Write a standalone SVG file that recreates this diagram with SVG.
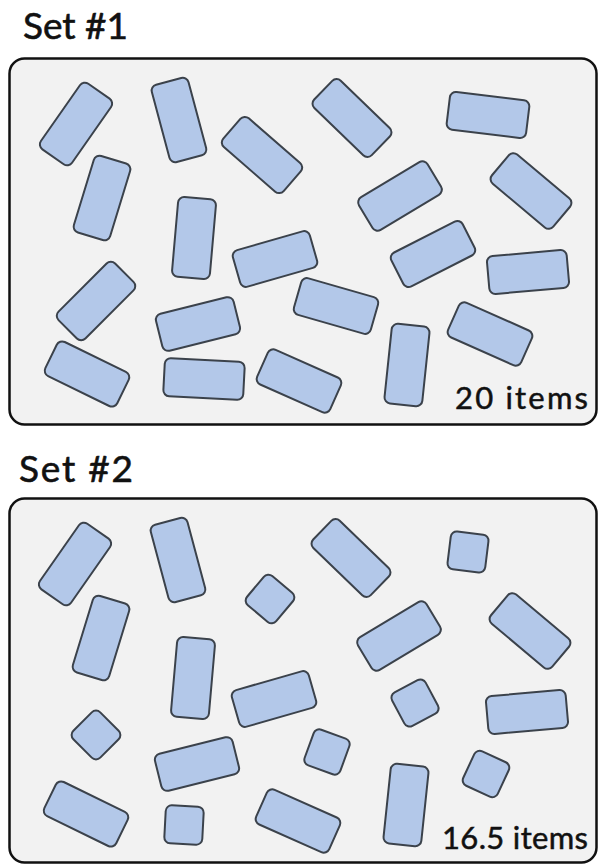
<svg xmlns="http://www.w3.org/2000/svg" xmlns:xlink="http://www.w3.org/1999/xlink" width="599" height="867" viewBox="0 0 599 867">
<style>
.panel{fill:#f2f2f2;stroke:#111;stroke-width:2.5}
.it{fill:#b3c8e9;stroke:#3b424b;stroke-width:2}
.title{font-family:Lato,"Open Sans","Liberation Sans",sans-serif;font-size:37px;fill:#111;stroke:#111;stroke-width:0.6}
.count{font-family:Lato,"Open Sans","Liberation Sans",sans-serif;font-size:31px;fill:#111;stroke:#111;stroke-width:0.5}
</style>
<defs>
<rect id="r" x="-40" y="-19" width="80" height="38" rx="6"/>
<rect id="s" x="-19" y="-19" width="38" height="38" rx="6"/>
</defs>
<rect width="599" height="867" fill="#fff"/>
<g id="set1">
<text class="title" x="23" y="39" textLength="105">Set #1</text>
<rect class="panel" x="9.5" y="58.5" width="587" height="366" rx="15"/>
<g id="s1i1" transform="translate(76,124) rotate(-55)"><use href="#r" class="it"/></g>
<g id="s1i2" transform="translate(179,120) rotate(75)"><use href="#r" class="it"/></g>
<g id="s1i3" transform="translate(262,155) rotate(41)"><use href="#r" class="it"/></g>
<g id="s1i4" transform="translate(352,118) rotate(44)"><use href="#r" class="it"/></g>
<g id="s1i5" transform="translate(488,115) rotate(7)"><use href="#r" class="it"/></g>
<g id="s1i6" transform="translate(531,191) rotate(40)"><use href="#r" class="it"/></g>
<g id="s1i7" transform="translate(400,196) rotate(-31)"><use href="#r" class="it"/></g>
<g id="s1i8" transform="translate(102,198) rotate(107)"><use href="#r" class="it"/></g>
<g id="s1i9" transform="translate(194,238) rotate(95)"><use href="#r" class="it"/></g>
<g id="s1i10" transform="translate(275,259) rotate(-16)"><use href="#r" class="it"/></g>
<g id="s1i11" transform="translate(96,301) rotate(-45)"><use href="#r" class="it"/></g>
<g id="s1i12" transform="translate(198,324) rotate(-14)"><use href="#r" class="it"/></g>
<g id="s1i13" transform="translate(87,374) rotate(26)"><use href="#r" class="it"/></g>
<g id="s1i14" transform="translate(204,379) rotate(3)"><use href="#r" class="it"/></g>
<g id="s1i15" transform="translate(299,381) rotate(24)"><use href="#r" class="it"/></g>
<g id="s1i16" transform="translate(336,306) rotate(16)"><use href="#r" class="it"/></g>
<g id="s1i17" transform="translate(407,365) rotate(96)"><use href="#r" class="it"/></g>
<g id="s1i18" transform="translate(433,254) rotate(-27)"><use href="#r" class="it"/></g>
<g id="s1i19" transform="translate(528,272) rotate(-5)"><use href="#r" class="it"/></g>
<g id="s1i20" transform="translate(490,334) rotate(24)"><use href="#r" class="it"/></g>
<text class="count" x="455" y="409" textLength="133">20 items</text>
</g>
<g id="set2">
<text class="title" x="19" y="482" textLength="114">Set #2</text>
<rect class="panel" x="9.5" y="498.5" width="587" height="364" rx="15"/>
<g id="s2i1" transform="translate(75,564) rotate(-55)"><use href="#r" class="it"/></g>
<g id="s2i2" transform="translate(178,560) rotate(75)"><use href="#r" class="it"/></g>
<g id="s2i3" transform="translate(270,599) rotate(40)"><use href="#s" class="it"/></g>
<g id="s2i4" transform="translate(351,558) rotate(44)"><use href="#r" class="it"/></g>
<g id="s2i5" transform="translate(468,552) rotate(7)"><use href="#s" class="it"/></g>
<g id="s2i6" transform="translate(530,631) rotate(40)"><use href="#r" class="it"/></g>
<g id="s2i7" transform="translate(399,636) rotate(-31)"><use href="#r" class="it"/></g>
<g id="s2i8" transform="translate(101,638) rotate(107)"><use href="#r" class="it"/></g>
<g id="s2i9" transform="translate(193,678) rotate(95)"><use href="#r" class="it"/></g>
<g id="s2i10" transform="translate(274,699) rotate(-16)"><use href="#r" class="it"/></g>
<g id="s2i11" transform="translate(96,735) rotate(45)"><use href="#s" class="it"/></g>
<g id="s2i12" transform="translate(197,764) rotate(-14)"><use href="#r" class="it"/></g>
<g id="s2i13" transform="translate(86,814) rotate(26)"><use href="#r" class="it"/></g>
<g id="s2i14" transform="translate(184,825) rotate(3)"><use href="#s" class="it"/></g>
<g id="s2i15" transform="translate(298,821) rotate(24)"><use href="#r" class="it"/></g>
<g id="s2i16" transform="translate(327,752) rotate(20)"><use href="#s" class="it"/></g>
<g id="s2i17" transform="translate(406,805) rotate(96)"><use href="#r" class="it"/></g>
<g id="s2i18" transform="translate(415,703) rotate(-28)"><use href="#s" class="it"/></g>
<g id="s2i19" transform="translate(527,712) rotate(-5)"><use href="#r" class="it"/></g>
<g id="s2i20" transform="translate(486,774) rotate(25)"><use href="#s" class="it"/></g>
<text class="count" x="442" y="849" textLength="146">16.5 items</text>
</g>
<g id="connectors"/>
</svg>
